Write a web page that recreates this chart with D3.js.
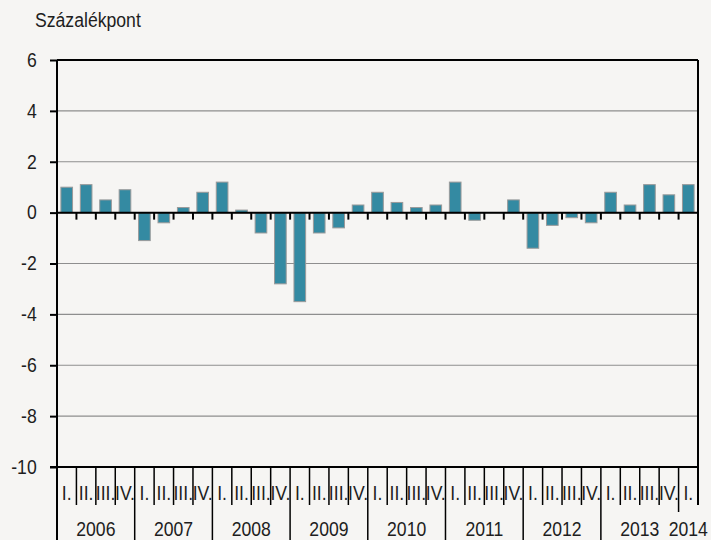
<!DOCTYPE html>
<html>
<head>
<meta charset="utf-8">
<script src="https://cdn.jsdelivr.net/npm/d3@7"></script>
<style>
  html, body { margin: 0; padding: 0; background: #f6f5f3; }
  svg { display: block; font-family: "Liberation Sans", Arial, sans-serif; }
</style>
</head>
<body>
<svg id="chart" width="711" height="540"></svg>
<script>
const years = ['2006', '2007', '2008', '2009', '2010', '2011', '2012', '2013', '2014'];
const quarterLabels = ['I.', 'II.', 'III.', 'IV.'];
const values = [
  1.0, 1.1, 0.5, 0.9,
  -1.1, -0.4, 0.2, 0.8,
  1.2, 0.1, -0.8, -2.8,
  -3.5, -0.8, -0.6, 0.3,
  0.8, 0.4, 0.2, 0.3,
  1.2, -0.3, 0.0, 0.5,
  -1.4, -0.5, -0.2, -0.4,
  0.8, 0.3, 1.1, 0.7,
  1.1,
];
const yTicks = [-10, -8, -6, -4, -2, 0, 2, 4, 6];
const unitLabel = 'Százalékpont';

const categories = years
  .flatMap(yr => quarterLabels.map(q => `${yr} ${q}`))
  .slice(0, values.length);
const data = categories.map((c, i) => ({ key: c, year: c.split(' ')[0], q: c.split(' ')[1], value: values[i] }));

const svg = d3.select('#chart');
const width = +svg.attr('width');
const height = +svg.attr('height');
const margin = { top: 60, right: 13, bottom: 73, left: 57 };
const axisY = height - margin.bottom;
const fontSize = 21;
const squeeze = 0.84; // text in the original is narrow
const textColor = '#1e1e1e';

const x = d3.scaleBand()
  .domain(categories)
  .range([margin.left, width - margin.right])
  .padding(0);
const step = x.step();
const y = d3.scaleLinear()
  .domain([yTicks[0], yTicks[yTicks.length - 1]])
  .range([axisY, margin.top]);

// narrow text helper
const narrowText = (sel, cx, by) => sel
  .attr('x', 0)
  .attr('y', 0)
  .attr('transform', (d, i) => `translate(${cx(d, i)},${by(d, i)}) scale(${squeeze},1)`)
  .attr('font-size', fontSize)
  .attr('fill', textColor);

// gridlines
svg.append('g')
  .selectAll('line')
  .data(yTicks)
  .join('line')
  .attr('x1', margin.left)
  .attr('x2', width - margin.right)
  .attr('y1', d => y(d))
  .attr('y2', d => y(d))
  .attr('stroke', '#8e8e8e')
  .attr('stroke-width', 1.2);

// bars
svg.append('g')
  .selectAll('rect')
  .data(data.filter(d => d.value !== 0))
  .join('rect')
  .attr('x', d => x(d.key) + step * 0.2)
  .attr('width', step * 0.6)
  .attr('y', d => y(Math.max(0, d.value)))
  .attr('height', d => Math.abs(y(d.value) - y(0)))
  .attr('fill', '#348aa2')
  .attr('stroke', '#9a9a9a')
  .attr('stroke-width', 1);

// zero line with little ticks
const boundaries = d3.range(categories.length + 1).map(i => margin.left + i * step);
svg.append('line')
  .attr('x1', margin.left)
  .attr('x2', width - margin.right)
  .attr('y1', y(0))
  .attr('y2', y(0))
  .attr('stroke', '#000')
  .attr('stroke-width', 2);
svg.append('g')
  .selectAll('line')
  .data(boundaries.slice(1, -1))
  .join('line')
  .attr('x1', d => d)
  .attr('x2', d => d)
  .attr('y1', y(0))
  .attr('y2', y(0) + 7)
  .attr('stroke', '#000')
  .attr('stroke-width', 2);

// frame top / right
svg.append('line')
  .attr('x1', margin.left).attr('x2', width - margin.right)
  .attr('y1', margin.top).attr('y2', margin.top)
  .attr('stroke', '#000').attr('stroke-width', 2);
svg.append('line')
  .attr('x1', width - margin.right).attr('x2', width - margin.right)
  .attr('y1', margin.top).attr('y2', axisY + 38)
  .attr('stroke', '#000').attr('stroke-width', 2);

// y axis
const gy = svg.append('g')
  .attr('transform', `translate(${margin.left},0)`)
  .call(d3.axisLeft(y)
    .tickValues(yTicks)
    .tickFormat(d => String(d))
    .tickSize(7)
    .tickSizeOuter(0)
    .tickPadding(13));
gy.select('.domain').remove();
gy.selectAll('.tick line').attr('stroke', '#000').attr('stroke-width', 2);
gy.selectAll('.tick text')
  .attr('x', -20.3 / squeeze)
  .attr('dy', '0.3em')
  .attr('transform', `scale(${squeeze},1)`)
  .attr('font-size', fontSize)
  .attr('font-family', '"Liberation Sans", Arial, sans-serif')
  .attr('fill', textColor);
svg.append('line')
  .attr('x1', margin.left).attr('x2', margin.left)
  .attr('y1', margin.top).attr('y2', height)
  .attr('stroke', '#000').attr('stroke-width', 2);

// category axis
svg.append('line')
  .attr('x1', margin.left - 7).attr('x2', width - margin.right)
  .attr('y1', axisY).attr('y2', axisY)
  .attr('stroke', '#000').attr('stroke-width', 2);
svg.append('g')
  .selectAll('line')
  .data(boundaries.slice(1))
  .join('line')
  .attr('x1', d => d)
  .attr('x2', d => d)
  .attr('y1', axisY)
  .attr('y2', (d, i) => {
    const k = i + 1;
    if (k === categories.length) return axisY + 38;
    if (k === 32) return axisY + 45;
    return k % 4 === 0 ? height : axisY + 38;
  })
  .attr('stroke', '#000')
  .attr('stroke-width', 1.5);

svg.append('g')
  .selectAll('text')
  .data(data)
  .join('text')
  .attr('text-anchor', 'middle')
  .text(d => d.q)
  .call(narrowText, d => x(d.key) + step / 2, () => axisY + 33);

const yearSpans = years.map(yr => {
  const ks = data.filter(d => d.year === yr);
  return { yr, x0: x(ks[0].key), x1: x(ks[ks.length - 1].key) + step };
});
svg.append('g')
  .selectAll('text')
  .data(yearSpans)
  .join('text')
  .attr('text-anchor', 'middle')
  .text(d => d.yr)
  .call(narrowText, d => Math.min((d.x0 + d.x1) / 2, width - 19.5), () => height - 4);

svg.append('text')
  .text(unitLabel)
  .attr('text-anchor', 'start')
  .call(narrowText, () => 35, () => 27);
</script>
</body>
</html>
